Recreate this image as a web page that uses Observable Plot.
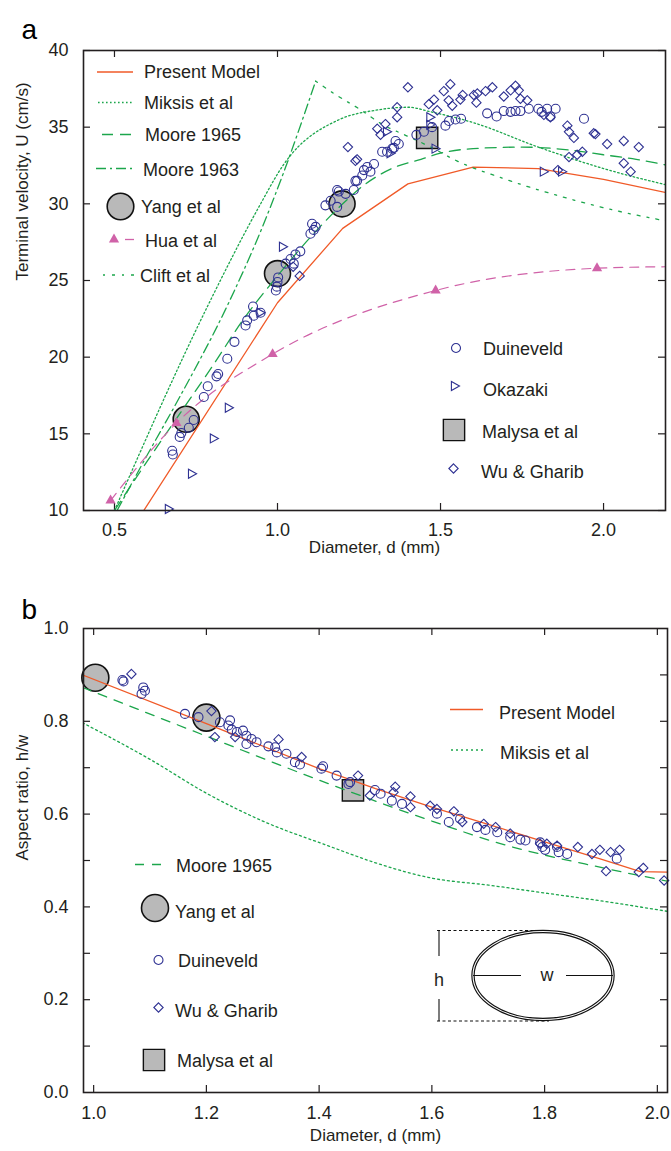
<!DOCTYPE html>
<html><head><meta charset="utf-8">
<script src="https://cdn.jsdelivr.net/npm/d3@7"></script>
<script src="https://cdn.jsdelivr.net/npm/@observablehq/plot@0.6"></script>
<style>body{margin:0;background:#fff} #chart svg{display:block}</style>
</head><body><div id="chart"></div>
<script>
// ---------- Panel a : terminal velocity ----------
const topXTicks = [0.5, 1.0, 1.5, 2.0];
const topYTicks = [10, 15, 20, 25, 30, 35, 40];

const presentTop = [[0.59,10],[1.0,23.55],[1.2,28.4],[1.4,31.3],[1.6,32.4],[1.8,32.3],[2.0,31.6],[2.2,30.7]];
const miksisTop = [[0.5,10],[0.785,23.3],[0.943,29.8],[1.02,32.6],[1.19,35.5],[1.3,36.1],[1.4,36.3],[1.47,36.0],[1.6,35.3],[1.8,33.7],[2.0,32.3],[2.2,31.2]];
const moore65Top = [[0.5,10],[0.6,13.2],[0.7,16.3],[0.8,19.4],[0.9,22.6],[1.0,25.3],[1.1,27.8],[1.2,30.0],[1.264,31.2],[1.35,32.3],[1.44,32.9],[1.5,33.3],[1.6,33.6],[1.75,33.7],[1.9,33.5],[2.0,33.2],[2.1,32.9],[2.2,32.5]];
const moore63Top = [[0.508,10],[0.6,13.6],[0.7,17.4],[0.847,23.4],[0.95,28.3],[1.018,32.0],[1.117,38.0]];
const cliftTop = [[1.117,38.0],[1.18,37.1],[1.25,36.2],[1.32,35.2],[1.4,34.4],[1.47,33.7],[1.55,32.8],[1.7,31.6],[1.9,30.3],[2.05,29.5],[2.2,28.85]];
const huaTop = [[0.488,10.65],[0.69,15.7],[0.985,20.2],[1.485,24.35],[1.98,25.8]];
const huaTopLine = [[0.488,10.65],[0.69,15.7],[0.985,20.2],[1.485,24.35],[1.98,25.8],[2.2,25.9]];
const yangTop = [[0.72,15.95],[1.0,25.45],[1.198,30.0]];
const malysaTop = [[1.459,34.3]];
const duinTop = [[0.677,13.9],[0.679,13.65],[0.70,14.8],[0.705,15.05],[0.728,15.4],[0.743,15.9],[0.774,17.4],[0.786,18.1],[0.813,18.75],[0.818,18.9],[0.846,19.9],[0.868,21.0],[0.902,22.07],[0.907,22.4],[0.927,22.7],[0.948,22.9],[0.925,23.3],
 [0.995,24.35],[0.998,24.6],[1.0,24.9],[1.002,25.2],[1.025,26.1],[1.04,26.4],[1.055,26.7],[1.05,26.1],[1.07,26.9],
 [1.101,28.05],[1.106,28.7],[1.111,28.3],[1.117,28.5],
 [1.147,29.9],[1.163,30.2],[1.183,30.9],[1.183,29.8],[1.188,30.8],[1.209,30.65],[1.234,30.9],[1.239,31.5],[1.244,31.5],[1.26,31.85],[1.265,32.2],[1.275,32.4],[1.285,32.1],[1.296,32.6],
 [1.321,33.4],[1.336,33.4],[1.352,33.6],[1.357,33.65],[1.362,34.1],[1.372,33.9],
 [1.426,34.5],[1.449,34.7],[1.474,35.0],[1.515,35.1],[1.526,35.4],[1.546,35.5],[1.563,35.55],[1.643,35.9],[1.672,35.7],[1.694,36.05],[1.715,36.0],[1.73,36.05],[1.745,36.05],[1.771,36.2],[1.80,36.2],[1.81,36.0],[1.827,36.2],[1.837,35.7],[1.853,36.2],[1.94,35.55]];
const wuTop = [[1.048,25.9],[1.068,25.3],[1.216,33.7],[1.239,32.8],[1.244,32.9],[1.306,34.9],[1.316,34.5],[1.331,35.2],[1.367,36.3],[1.367,35.65],[1.40,37.6],[1.464,36.5],[1.48,36.8],[1.49,36.1],[1.51,37.35],[1.53,37.8],[1.525,36.75],[1.536,36.4],[1.561,36.8],[1.568,37.1],[1.602,37.1],[1.61,36.6],[1.613,37.2],[1.638,37.35],[1.659,37.6],[1.694,37.0],[1.715,37.4],[1.73,37.7],[1.74,37.4],[1.745,36.85],[1.766,36.75],[1.817,35.8],[1.837,35.65],[1.889,35.1],[1.894,34.7],[1.909,34.3],[1.97,34.6],[1.975,34.55],[2.011,33.9],[2.062,34.1],[2.108,33.7],[2.062,32.65],[2.083,32.1],[1.894,33.05],[1.919,33.2],[1.935,33.4],[1.86,32.2]];
const okaTop = [[0.667,10.1],[0.738,12.4],[0.805,14.7],[0.851,16.7],[0.948,22.9],[1.017,27.2],[1.336,34.7],[1.347,33.3],[1.469,35.15],[1.485,33.6],[1.469,35.65],[1.817,32.1],[1.873,32.1]];

// ---------- Panel b : aspect ratio ----------
const botXTicks = [1.0, 1.2, 1.4, 1.6, 1.8, 2.0];
const botYLabels = [0.0, 0.2, 0.4, 0.6, 0.8, 1.0];
const botYTicks = [0.1, 0.2, 0.3, 0.4, 0.5, 0.6, 0.7, 0.8, 0.9];

const presentBot = [[0.98,0.9],[1.2,0.795],[1.4,0.698],[1.5,0.655],[1.6,0.615],[1.7,0.578],[1.8,0.54],[1.9,0.503],[1.97,0.476],[2.02,0.475]];
const moore65Bot = [[0.98,0.873],[1.2,0.768],[1.42,0.664],[1.6,0.585],[1.72,0.537],[1.9,0.485],[2.02,0.455]];
const miksisBot = [[0.98,0.797],[1.1,0.718],[1.2,0.645],[1.3,0.585],[1.42,0.53],[1.5,0.495],[1.6,0.462],[1.7,0.447],[1.8,0.43],[1.9,0.413],[2.02,0.39]];
const yangBot = [[1.003,0.894],[1.2,0.808]];
const malysaBot = [[1.46,0.651]];
const duinBot = [[1.051,0.889],[1.053,0.886],[1.088,0.873],[1.091,0.866],[1.085,0.859],[1.162,0.816],[1.186,0.809],[1.224,0.798],[1.242,0.802],[1.239,0.791],[1.245,0.782],[1.254,0.777],[1.265,0.78],[1.271,0.769],[1.28,0.762],[1.271,0.751],[1.289,0.755],[1.31,0.746],[1.322,0.744],[1.325,0.733],[1.342,0.73],[1.357,0.712],[1.366,0.707],[1.404,0.698],[1.407,0.703],[1.431,0.683],[1.452,0.665],[1.455,0.669],[1.499,0.652],[1.509,0.644],[1.529,0.629],[1.547,0.622],[1.609,0.601],[1.63,0.583],[1.65,0.59],[1.68,0.572],[1.695,0.566],[1.716,0.561],[1.739,0.55],[1.757,0.545],[1.766,0.543],[1.792,0.539],[1.796,0.529],[1.801,0.523],[1.822,0.529],[1.825,0.518],[1.84,0.514],[1.928,0.504]];
const wuBot = [[1.067,0.902],[1.209,0.822],[1.215,0.766],[1.251,0.766],[1.328,0.761],[1.369,0.723],[1.469,0.683],[1.49,0.64],[1.535,0.659],[1.532,0.647],[1.562,0.638],[1.562,0.615],[1.597,0.618],[1.609,0.611],[1.639,0.606],[1.654,0.583],[1.692,0.579],[1.713,0.572],[1.739,0.558],[1.792,0.536],[1.804,0.536],[1.822,0.532],[1.859,0.529],[1.884,0.514],[1.898,0.523],[1.917,0.518],[1.933,0.523],[1.909,0.477],[1.967,0.475],[1.975,0.484],[2.012,0.457]];

// ---------- styling ----------
const FONT = "Liberation Sans, Arial, Helvetica, sans-serif";
const RED = "#f05a28", GREEN = "#1ca64c", PINK = "#d062a8", BLUE = "#2e3192", GRAY = "#b9b9b9", INK = "#231f20";
const triRight = {draw(ctx, size) { const r = Math.sqrt(size / Math.PI); ctx.moveTo(r, 0); ctx.lineTo(-0.8 * r, -r); ctx.lineTo(-0.8 * r, r); ctx.closePath(); }};
const X = d => d[0], Y = d => d[1];

function frameTicks(xt, yt, innerW, innerH, len) {
  const o = {stroke: INK, strokeWidth: 1.2};
  return [
    Plot.tickX(xt, {x: d => d, insetTop: innerH - len, ...o}),
    Plot.tickX(xt, {x: d => d, insetBottom: innerH - len, ...o}),
    Plot.tickY(yt, {y: d => d, insetRight: innerW - len, ...o}),
    Plot.tickY(yt, {y: d => d, insetLeft: innerW - len, ...o})
  ];
}

const topPlot = Plot.plot({
  width: 671, height: 580, marginTop: 50, marginRight: 6, marginBottom: 70, marginLeft: 83,
  x: {domain: [0.405, 2.19]}, y: {domain: [10, 40]},
  style: {fontFamily: FONT, fontSize: "18px", color: INK, background: "#fff", overflow: "visible"},
  marks: [
    Plot.axisX({ticks: topXTicks, tickSize: 0, tickPadding: 13, tickFormat: d3.format(".1f"), label: null, fill: INK}),
    Plot.axisY({ticks: topYTicks, tickSize: 0, tickPadding: 15, tickFormat: d3.format("d"), label: null, fill: INK}),
    ...frameTicks(topXTicks, topYTicks, 582, 460, 7),
    Plot.text(["Terminal velocity, U (cm/s)"], {text: d => d, frameAnchor: "left", dx: -61, rotate: -90, fontSize: 17, fill: INK}),
    Plot.text(["Diameter, d (mm)"], {text: d => d, frameAnchor: "bottom", dy: 42, fontSize: 17, fill: INK}),
    Plot.text(["a"], {text: d => d, frameAnchor: "top-left", dx: -62, dy: -31, fontSize: 28, fill: "#000"}),
    Plot.dot(yangTop, {x: X, y: Y, r: 13, fill: GRAY, stroke: "#111", strokeWidth: 1.6}),
    Plot.dot(malysaTop, {x: X, y: Y, symbol: "square", r: 12, fill: GRAY, stroke: "#111", strokeWidth: 1.4}),
    Plot.line(presentTop, {x: X, y: Y, stroke: RED, strokeWidth: 1.3, clip: true}),
    Plot.line(miksisTop, {x: X, y: Y, stroke: GREEN, strokeWidth: 1.3, strokeDasharray: "1.6,2.4", curve: "monotone-x", clip: true}),
    Plot.line(moore65Top, {x: X, y: Y, stroke: GREEN, strokeWidth: 1.3, strokeDasharray: "11,7", curve: "monotone-x", clip: true}),
    Plot.line(moore63Top, {x: X, y: Y, stroke: GREEN, strokeWidth: 1.3, strokeDasharray: "10,4,2,4", curve: "monotone-x", clip: true}),
    Plot.line(cliftTop, {x: X, y: Y, stroke: GREEN, strokeWidth: 1.3, strokeDasharray: "2,7,3,7", curve: "monotone-x", clip: true}),
    Plot.line(huaTopLine, {x: X, y: Y, stroke: PINK, strokeWidth: 1.2, strokeDasharray: "9,7", curve: "monotone-x", clip: true}),
    Plot.dot(duinTop, {x: X, y: Y, r: 4.5, stroke: BLUE, fill: "none", strokeWidth: 1.1}),
    Plot.dot(wuTop, {x: X, y: Y, symbol: "diamond2", r: 4.2, stroke: BLUE, fill: "none", strokeWidth: 1.1}),
    Plot.dot(okaTop, {x: X, y: Y, symbol: triRight, r: 4.5, stroke: BLUE, fill: "none", strokeWidth: 1.1}),
    Plot.dot(huaTop, {x: X, y: Y, symbol: "triangle", r: 3.8, fill: PINK, stroke: "none"}),
    Plot.frame({stroke: INK, strokeWidth: 1.6})
  ]
});

const botPlot = Plot.plot({
  width: 671, height: 571, marginTop: 48, marginRight: 4, marginBottom: 59, marginLeft: 83,
  x: {domain: [0.982, 2.018]}, y: {domain: [0, 1]},
  style: {fontFamily: FONT, fontSize: "18px", color: INK, background: "#fff", overflow: "visible"},
  marks: [
    Plot.axisX({ticks: botXTicks, tickSize: 0, tickPadding: 14, tickFormat: d3.format(".1f"), label: null, fill: INK}),
    Plot.axisY({ticks: botYLabels, tickSize: 0, tickPadding: 15, tickFormat: d3.format(".1f"), label: null, fill: INK}),
    ...frameTicks(botXTicks, botYTicks, 584, 464, 7),
    Plot.text(["Aspect ratio, h/w"], {text: d => d, frameAnchor: "left", dx: -61, rotate: -90, fontSize: 17, fill: INK}),
    Plot.text(["Diameter, d (mm)"], {text: d => d, frameAnchor: "bottom", dy: 48, fontSize: 17, fill: INK}),
    Plot.text(["b"], {text: d => d, frameAnchor: "top-left", dx: -62, dy: -29, fontSize: 28, fill: "#000"}),
    Plot.dot(yangBot, {x: X, y: Y, r: 13.5, fill: GRAY, stroke: "#111", strokeWidth: 1.6}),
    Plot.dot(malysaBot, {x: X, y: Y, symbol: "square", r: 12, fill: GRAY, stroke: "#111", strokeWidth: 1.4}),
    Plot.line(miksisBot, {x: X, y: Y, stroke: GREEN, strokeWidth: 1.3, strokeDasharray: "2,3", curve: "monotone-x", clip: true}),
    Plot.line(moore65Bot, {x: X, y: Y, stroke: GREEN, strokeWidth: 1.3, strokeDasharray: "9,8", curve: "monotone-x", clip: true}),
    Plot.line(presentBot, {x: X, y: Y, stroke: RED, strokeWidth: 1.3, clip: true}),
    Plot.dot(duinBot, {x: X, y: Y, r: 4.5, stroke: BLUE, fill: "none", strokeWidth: 1.1}),
    Plot.dot(wuBot, {x: X, y: Y, symbol: "diamond2", r: 4.2, stroke: BLUE, fill: "none", strokeWidth: 1.1}),
    Plot.frame({stroke: INK, strokeWidth: 1.6})
  ]
});

// ---------- legends & inset (decoration) ----------
function legend(svg, items) {
  const g = d3.select(svg).append("g").attr("font-family", FONT).attr("font-size", 18).attr("fill", INK).attr("text-anchor", "start");
  for (const it of items) {
    if (it.line) {
      g.append("line").attr("x1", it.line[0]).attr("x2", it.line[1]).attr("y1", it.line[2]).attr("y2", it.line[2])
        .attr("stroke", it.stroke).attr("stroke-width", 1.3).attr("stroke-dasharray", it.dash || null);
    }
    if (it.sym) {
      const [type, size, cx, cy, fill, stroke, sw] = it.sym;
      g.append("path").attr("d", d3.symbol(type, size)()).attr("transform", `translate(${cx},${cy})`)
        .attr("fill", fill).attr("stroke", stroke).attr("stroke-width", sw);
    }
    if (it.text) g.append("text").attr("x", it.text[1]).attr("y", it.text[2]).attr("dy", "0.35em").attr("text-anchor", "start").text(it.text[0]);
  }
  return g;
}
const A = r => Math.PI * r * r;

legend(topPlot, [
  {line: [97, 133, 72], stroke: RED, text: ["Present Model", 144, 72]},
  {line: [98, 133, 102.5], stroke: GREEN, dash: "1.6,2.4", text: ["Miksis et al", 144, 102.5]},
  {line: [102, 132, 134.5], stroke: GREEN, dash: "11,7", text: ["Moore 1965", 145, 135]},
  {line: [96, 135, 168.5], stroke: GREEN, dash: "10,4,2,4", text: ["Moore 1963", 143, 170]},
  {sym: [d3.symbolCircle, A(13.3), 120.5, 206.5, GRAY, "#111", 1.6], text: ["Yang et al", 141, 206.5]},
  {line: [125, 134, 239.5], stroke: PINK, dash: "9,7", sym: [d3.symbolTriangle, A(3.8), 114, 239.5, PINK, "none", 0], text: ["Hua et al", 145, 241]},
  {line: [103, 137, 275], stroke: GREEN, dash: "2,7,3,7", text: ["Clift et al", 140, 276]},
  {sym: [d3.symbolCircle, A(4.5), 456, 348, "none", BLUE, 1.1], text: ["Duineveld", 483, 349]},
  {sym: [triRight, A(4.5), 455, 386, "none", BLUE, 1.1], text: ["Okazaki", 483, 390]},
  {sym: [d3.symbolSquare, A(12), 454, 430, GRAY, "#111", 1.4], text: ["Malysa et al", 482, 431.5]},
  {sym: [d3.symbolDiamond2, A(4.2), 453.5, 468.5, "none", BLUE, 1.1], text: ["Wu & Gharib", 481, 472]}
]);

legend(botPlot, [
  {line: [450, 483, 129.5], stroke: RED, text: ["Present Model", 499, 132.5]},
  {line: [451, 486, 170], stroke: GREEN, dash: "2,3", text: ["Miksis et al", 500, 172.5]},
  {line: [135, 166, 284.5], stroke: GREEN, dash: "9,8", text: ["Moore 1965", 176, 285.5]},
  {sym: [d3.symbolCircle, A(13.5), 155, 328, GRAY, "#111", 1.6], text: ["Yang et al", 175, 332]},
  {sym: [d3.symbolCircle, A(4.5), 158.5, 380, "none", BLUE, 1.1], text: ["Duineveld", 178, 381]},
  {sym: [d3.symbolDiamond2, A(4.2), 158.5, 427.5, "none", BLUE, 1.1], text: ["Wu & Gharib", 175, 430.5]},
  {sym: [d3.symbolSquare, A(12), 154, 480, GRAY, "#111", 1.4], text: ["Malysa et al", 177, 481]}
]);

// inset: bubble with h and w
{
  const g = d3.select(botPlot).append("g").attr("font-family", FONT).attr("font-size", 18).attr("fill", INK);
  const dash = (x1, y1, x2, y2, da) => g.append("line").attr("x1", x1).attr("y1", y1).attr("x2", x2).attr("y2", y2)
    .attr("stroke", "#111").attr("stroke-width", 1.1).attr("stroke-dasharray", da || null);
  dash(437, 350.5, 545, 350.5, "3,2.5");
  dash(437, 441, 549, 441, "3,2.5");
  dash(439, 351, 439, 376);
  dash(439, 419, 439, 441);
  g.append("ellipse").attr("cx", 543).attr("cy", 395.5).attr("rx", 70).attr("ry", 44).attr("fill", "none").attr("stroke", "#111").attr("stroke-width", 3.4);
  g.append("ellipse").attr("cx", 543).attr("cy", 395.5).attr("rx", 70).attr("ry", 44).attr("fill", "none").attr("stroke", "#fff").attr("stroke-width", 1.1);
  dash(473, 395.5, 521, 395.5);
  dash(566, 395.5, 613, 395.5);
  g.append("text").attr("x", 439).attr("y", 400).attr("dy", "0.35em").attr("text-anchor", "middle").text("h");
  g.append("text").attr("x", 547).attr("y", 395).attr("dy", "0.35em").attr("text-anchor", "middle").text("w");
}

document.getElementById("chart").append(topPlot, botPlot);
</script>
</body></html>
